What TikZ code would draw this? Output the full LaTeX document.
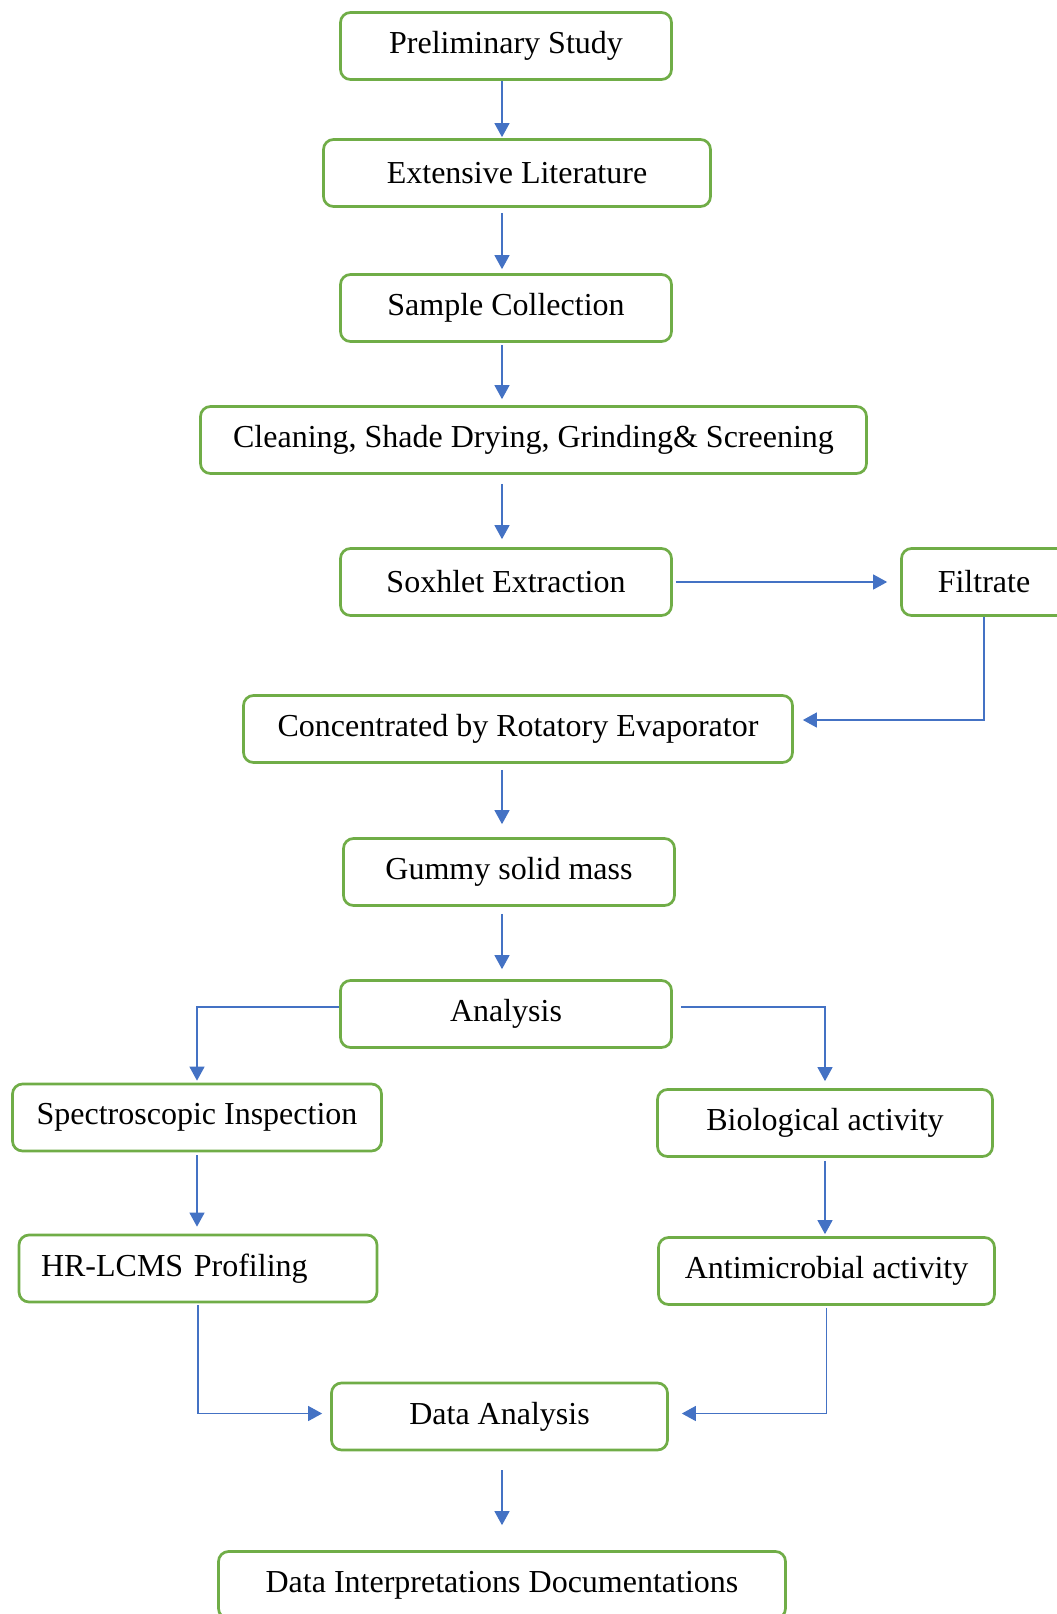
\documentclass[tikz,border=0pt]{standalone}
\usepackage{fontspec}
\setmainfont{Liberation Serif}
\usetikzlibrary{arrows.meta,positioning}
\definecolor{boxgreen}{RGB}{112,173,71}
\definecolor{lineblue}{RGB}{68,114,196}
\tikzset{
	stage/.style={draw=boxgreen, line width=2.7pt, rounded corners=10pt, fill=white, minimum height=67pt, inner sep=0pt, font=\fontsize{32}{38}\selectfont, text centered},
	diredge/.style={-{Triangle[width=15pt,length=14pt]}, draw=lineblue, line width=1.3pt, shorten <=3pt, shorten >=4pt}
}
\begin{document}
\begin{tikzpicture}[x=1pt, y=-1pt]
		\useasboundingbox (0, 0) rectangle (1057, 1614);
		\clip (0, 0) rectangle (1057, 1614);
		\coordinate (spine) at (502, 0);

		\node [stage, minimum width=331pt] (0) at (506, 46) {Preliminary Study};
		\node [stage, minimum width=387pt] (1) at (517, 173) {Extensive Literature};
		\node [stage, minimum width=331pt] (2) at (506, 308) {Sample Collection};
		\node [stage, minimum width=666pt] (3) at (533.5, 440) {Cleaning, Shade Drying, Grinding\& Screening};
		\node [stage, minimum width=331pt] (4) at (506, 582) {Soxhlet Extraction};
		\node [stage, minimum width=165pt] (5) at (984, 582) {Filtrate};
		\node [stage, minimum width=549pt] (6) at (518, 729) {Concentrated by Rotatory Evaporator};
		\node [stage, minimum width=331pt] (7) at (509, 872) {Gummy solid mass};
		\node [stage, minimum width=331pt] (8) at (506, 1014) {Analysis};
		\node [stage, minimum width=369pt] (9) at (197, 1117.5) {Spectroscopic Inspection};
		\node [stage, minimum width=358pt, text width=314pt, inner xsep=22pt, align=left] (10) at (198, 1268.5) {HR-LCMS Profiling};
		\node [stage, minimum width=335pt] (11) at (825, 1123) {Biological activity};
		\node [stage, minimum width=336pt] (12) at (826.5, 1271) {Antimicrobial activity};
		\node [stage, minimum width=336pt] (13) at (499.5, 1416.5) {Data Analysis};
		\node [stage, minimum width=567pt] (14) at (502, 1585) {Data Interpretations Documentations};

		\draw [diredge, shorten <=0pt, shorten >=1pt] (0.south -| spine) to (1.north -| spine);
		\draw [diredge, shorten <=5pt] (1.south -| spine) to (2.north -| spine);
		\draw [diredge, shorten <=2pt, shorten >=6pt] (2.south -| spine) to (3.north -| spine);
		\draw [diredge, shorten <=9pt, shorten >=8pt] (3.south -| spine) to (4.north -| spine);
		\draw [diredge, shorten >=13pt] (4.east) to (5.west);
		\draw [diredge, shorten <=0pt, shorten >=9pt] (5.south) |- ([yshift=9pt]6.east);
		\draw [diredge, shorten <=6pt, shorten >=13pt] (6.south -| spine) to (7.north -| spine);
		\draw [diredge, shorten <=7pt, shorten >=10pt] (7.south -| spine) to (8.north -| spine);
		\draw [diredge, shorten <=0pt, shorten >=2pt] ([yshift=7pt]8.west) -| (9.north);
		\draw [diredge, shorten <=8pt, shorten >=7pt] ([yshift=7pt]8.east) -| (11.north);
		\draw [diredge, shorten >=7pt] (9.south) to (9.south |- 10.north);
		\draw [diredge, shorten >=2pt] (11.south) to (11.south |- 12.north);
		\draw [diredge, shorten <=2pt, shorten >=8pt] (10.south) |- ([yshift=3pt]13.west);
		\draw [diredge, shorten <=2pt, shorten >=13pt] (12.south) |- ([yshift=3pt]13.east);
		\draw [diredge, shorten <=19pt, shorten >=25pt] (13.south -| spine) to (14.north -| spine);
\end{tikzpicture}
\end{document}
